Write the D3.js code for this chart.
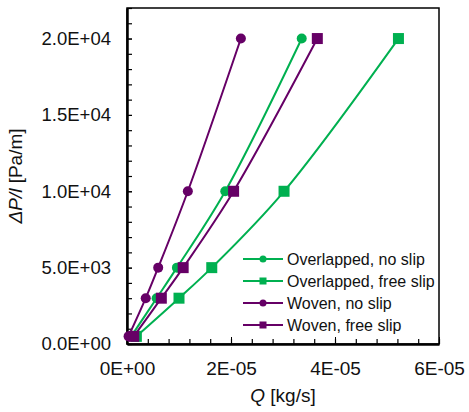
<!DOCTYPE html>
<html>
<head>
<meta charset="utf-8">
<script src="https://cdn.jsdelivr.net/npm/d3@7"></script>
<style>
  body { margin: 0; background: #fff; }
  text { font-family: 'Liberation Sans', Arial, Helvetica, sans-serif; fill: #111; }
</style>
</head>
<body>
<div id="chart"></div>
<script>
// pressure gradient levels [Pa/m]
const dpLevels = [500, 3000, 5000, 10000, 20000];

// mass flow rate Q [kg/s] per series, one per dpLevels entry
const overlappedNoSlip = [0.8e-6, 5.7e-6, 9.6e-6, 1.89e-5, 3.36e-5];
const overlappedFreeSlip = [1.8e-6, 1.0e-5, 1.63e-5, 3.02e-5, 5.22e-5];
const wovenNoSlip = [0.3e-6, 3.6e-6, 6.0e-6, 1.17e-5, 2.19e-5];
const wovenFreeSlip = [1.3e-6, 6.6e-6, 1.08e-5, 2.05e-5, 3.66e-5];

const seriesNames = ['Overlapped, no slip', 'Overlapped, free slip', 'Woven, no slip', 'Woven, free slip'];

const xTickLabels = ['0E+00', '2E-05', '4E-05', '6E-05'];
const yTickLabels = ['0.0E+00', '5.0E+03', '1.0E+04', '1.5E+04', '2.0E+04'];

const green = '#00b050';
const purple = '#660066';

const series = [
  { name: seriesNames[0], q: overlappedNoSlip, color: green, shape: 'circle' },
  { name: seriesNames[1], q: overlappedFreeSlip, color: green, shape: 'square' },
  { name: seriesNames[2], q: wovenNoSlip, color: purple, shape: 'circle' },
  { name: seriesNames[3], q: wovenFreeSlip, color: purple, shape: 'square' }
];

const W = 469, H = 412;
const margin = { top: 8, right: 30, bottom: 68, left: 127 };
const width = W - margin.left - margin.right;
const height = H - margin.top - margin.bottom;

const svg = d3.select('#chart')
  .append('svg')
  .attr('width', W)
  .attr('height', H)
  .append('g')
  .attr('transform', 'translate(' + margin.left + ',' + margin.top + ')');

const x = d3.scaleLinear().domain([0, 6e-5]).range([0, width]);
const y = d3.scaleLinear().domain([0, 22000]).range([height, 0]);

// frame
svg.append('rect')
  .attr('width', width)
  .attr('height', height)
  .attr('fill', 'none')
  .attr('stroke', '#000')
  .attr('stroke-width', 1.5);

// minor ticks, drawn inward
const xMinor = d3.range(0, 6e-5 + 1e-12, 4e-6);
svg.append('g')
  .attr('transform', 'translate(0,' + height + ')')
  .call(d3.axisBottom(x).tickValues(xMinor).tickSize(-5).tickFormat(''))
  .call(g => g.select('.domain').remove())
  .call(g => g.selectAll('.tick line').attr('stroke-width', 1.2));

const yMinor = d3.range(0, 22001, 1000);
svg.append('g')
  .call(d3.axisLeft(y).tickValues(yMinor).tickSize(-5).tickFormat(''))
  .call(g => g.select('.domain').remove())
  .call(g => g.selectAll('.tick line').attr('stroke-width', 1.2));

// major axes with labels
svg.append('g')
  .attr('class', 'axis')
  .attr('transform', 'translate(0,' + height + ')')
  .call(d3.axisBottom(x)
    .tickValues([0, 2e-5, 4e-5, 6e-5])
    .tickSize(-7)
    .tickSizeOuter(0)
    .tickFormat((d, i) => xTickLabels[i]))
  .call(g => g.selectAll('.tick text').attr('y', 18).attr('font-size', 19))
  .call(g => g.select('.domain').attr('stroke-width', 2.5));

svg.append('g')
  .attr('class', 'axis')
  .call(d3.axisLeft(y)
    .tickValues([0, 5000, 10000, 15000, 20000])
    .tickSize(-5)
    .tickSizeOuter(0)
    .tickFormat((d, i) => yTickLabels[i]))
  .call(g => g.selectAll('.tick text').attr('x', -16).attr('font-size', 18.5))
  .call(g => g.select('.domain').attr('stroke-width', 2.5));

svg.selectAll('.axis text').attr('fill', '#111').attr('font-family', "'Liberation Sans', Arial, sans-serif");

// axis titles
const xTitle = svg.append('text')
  .attr('x', width / 2)
  .attr('y', height + 58)
  .attr('text-anchor', 'middle')
  .attr('font-size', 19);
xTitle.append('tspan').attr('font-style', 'italic').text('Q');
xTitle.append('tspan').text(' [kg/s]');

const yTitle = svg.append('text')
  .attr('transform', 'translate(' + (-105) + ',' + (height / 2) + ') rotate(-90)')
  .attr('text-anchor', 'middle')
  .attr('font-size', 19);
yTitle.append('tspan').attr('font-style', 'italic').text('ΔP/l');
yTitle.append('tspan').text(' [Pa/m]');

// series lines and markers
const line = d3.line()
  .curve(d3.curveCatmullRom.alpha(0.5))
  .x(d => x(d.q))
  .y(d => y(d.dp));

function drawMarker(g, shape, color, size) {
  if (shape === 'circle') {
    g.append('circle').attr('r', size / 2).attr('fill', color);
  } else {
    g.append('rect')
      .attr('x', -size / 2).attr('y', -size / 2)
      .attr('width', size).attr('height', size)
      .attr('fill', color);
  }
}

series.forEach(s => {
  const pts = s.q.map((q, i) => ({ q: q, dp: dpLevels[i] }));
  svg.append('path')
    .datum(pts)
    .attr('fill', 'none')
    .attr('stroke', s.color)
    .attr('stroke-width', 2)
    .attr('d', line);
  pts.forEach(p => {
    const g = svg.append('g').attr('transform', 'translate(' + x(p.q) + ',' + y(p.dp) + ')');
    drawMarker(g, s.shape, s.color, s.shape === 'circle' ? 10 : 11);
  });
});

// legend
const legend = svg.append('g').attr('transform', 'translate(' + (x(0) + 116) + ',' + 251 + ')');
series.forEach((s, i) => {
  const row = legend.append('g').attr('transform', 'translate(0,' + (i * 22) + ')');
  row.append('line')
    .attr('x1', 0).attr('x2', 40)
    .attr('stroke', s.color)
    .attr('stroke-width', 2);
  const m = row.append('g').attr('transform', 'translate(20,0)');
  drawMarker(m, s.shape, s.color, 7);
  row.append('text')
    .attr('x', 44)
    .attr('dy', '0.35em')
    .attr('font-size', 16)
    .text(s.name);
});
</script>
</body>
</html>
